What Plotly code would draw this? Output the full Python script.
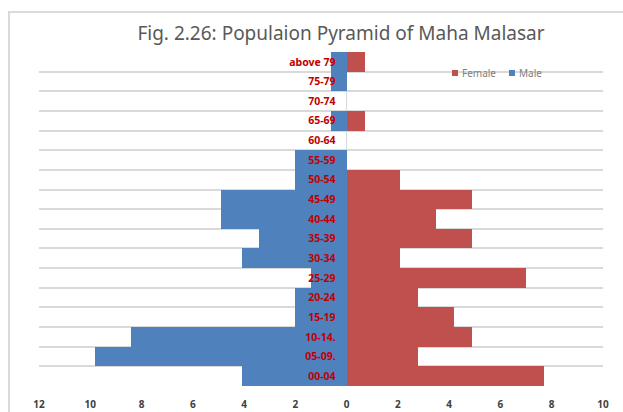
"""
Pirâmide etária - Maha Malasar (Fig. 2.26)
"""

import plotly.graph_objects as go

# Dados
faixas = ['00-04', '05-09.', '10-14.', '15-19', '20-24', '25-29', '30-34',
          '35-39', '40-44', '45-49', '50-54', '55-59', '60-64', '65-69',
          '70-74', '75-79', 'above 79']
masculino = [4.1, 9.8, 8.4, 2.0, 2.0, 1.4, 4.1, 3.4, 4.9, 4.9, 2.0, 2.0,
             0.0, 0.6, 0.0, 0.6, 0.6]
feminino = [7.7, 2.8, 4.9, 4.2, 2.8, 7.0, 2.1, 4.9, 3.5, 4.9, 2.1, 0.0,
            0.0, 0.7, 0.0, 0.0, 0.7]
tick_vals = [-12, -10, -8, -6, -4, -2, 0, 2, 4, 6, 8, 10]
tick_text = ['<b>%d</b>' % abs(v) for v in tick_vals]
legenda = ['Female', 'Male']

CORES = {
    'male': '#4F81BD',
    'female': '#C0504D',
    'grid': '#D9D9D9',
    'label': '#C00000',
    'texto': '#595959',
}

W, H = 623, 412
M = dict(l=39, r=20, t=52, b=26)
pw, ph = W - M['l'] - M['r'], H - M['t'] - M['b']


def px_x(px):
    """pixel -> paper x"""
    return (px - M['l']) / pw


def px_y(py):
    """pixel -> paper y"""
    return (H - M['b'] - py) / ph


fig = go.Figure()

fig.add_trace(go.Bar(
    name='Female', y=faixas, x=feminino, orientation='h',
    marker=dict(color=CORES['female'], line=dict(width=0)),
    showlegend=False,
))
fig.add_trace(go.Bar(
    name='Male', y=faixas, x=[-v for v in masculino], orientation='h',
    marker=dict(color=CORES['male'], line=dict(width=0)),
    showlegend=False,
))

# Legenda compacta (estilo Excel)
leg_x = [452, 509]
for nome, cor, x0 in zip(legenda, [CORES['female'], CORES['male']], leg_x):
    fig.add_shape(type='rect', xref='paper', yref='paper',
                  x0=px_x(x0), x1=px_x(x0 + 6), y0=px_y(76), y1=px_y(70),
                  fillcolor=cor, line=dict(width=0))
    fig.add_annotation(text=nome, xref='paper', yref='paper',
                       x=px_x(x0 + 8), y=px_y(73), xanchor='left', yanchor='middle',
                       showarrow=False, font=dict(size=10, color='#7F7F7F'))

# Borda do gráfico
fig.add_shape(type='rect', xref='paper', yref='paper',
              x0=px_x(9), x1=px_x(W + 20), y0=px_y(H + 20), y1=px_y(12),
              line=dict(color=CORES['grid'], width=2), layer='below')

fig.update_layout(
    width=W, height=H,
    paper_bgcolor='white',
    plot_bgcolor='white',
    barmode='relative',
    bargap=0,
    margin=dict(M, autoexpand=False),
    font=dict(family='Noto Sans, Arial, sans-serif', size=10, color=CORES['texto']),
    title=dict(
        text='Fig. 2.26: Populaion Pyramid of Maha Malasar',
        x=341 / W, xanchor='center', xref='container',
        y=1 - 33 / H, yanchor='middle', yref='container',
        font=dict(size=19, color=CORES['texto']),
    ),
    showlegend=False,
    xaxis=dict(
        range=[-12, 10],
        tickvals=tick_vals,
        ticktext=tick_text,
        showgrid=False,
        zeroline=True,
        zerolinecolor=CORES['grid'],
        zerolinewidth=1,
        tickfont=dict(size=10, color='#404040'),
        ticks='',
        ticklabelstandoff=11,
        automargin=False,
        fixedrange=True,
    ),
    yaxis=dict(
        type='category',
        categoryorder='array',
        categoryarray=faixas,
        tickson='boundaries',
        showgrid=True,
        gridcolor=CORES['grid'],
        gridwidth=1.5,
        anchor='free',
        position=12 / 22,
        ticks='',
        ticklabelstandoff=11,
        showline=False,
        tickprefix='<b>', ticksuffix='</b>',
        tickfont=dict(size=10.5, color=CORES['label']),
        automargin=False,
        fixedrange=True,
    ),
)

# tirar a margem padrão do <body> para o gráfico ficar em (0, 0)
fig.write_html('out.html', config={'displayModeBar': False},
               post_script="document.body.style.margin='0';document.body.style.overflow='hidden';")
